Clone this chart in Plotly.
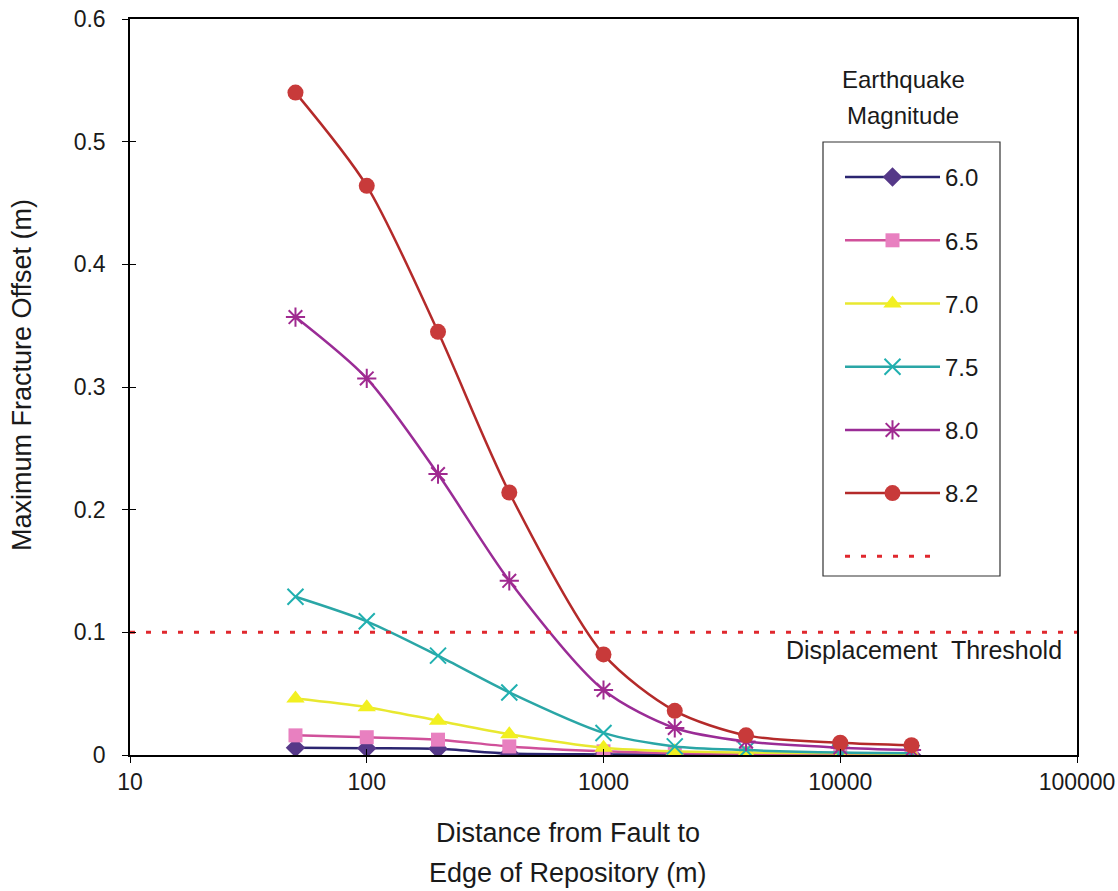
import plotly.graph_objects as go

distance = [50, 100, 200, 400, 1000, 2000, 4000, 10000, 20000]
magnitudes = ["6.0", "6.5", "7.0", "7.5", "8.0", "8.2"]
offset_60 = [0.006, 0.0055, 0.005, 0.0012, 0.0005, 0.0003, 0.0002, 0.0001, 0.0001]
offset_65 = [0.016, 0.0145, 0.0125, 0.007, 0.003, 0.0015, 0.001, 0.0005, 0.0004]
offset_70 = [0.046, 0.039, 0.028, 0.017, 0.006, 0.003, 0.002, 0.0015, 0.001]
offset_75 = [0.129, 0.109, 0.081, 0.051, 0.018, 0.007, 0.004, 0.002, 0.0015]
offset_80 = [0.357, 0.307, 0.229, 0.142, 0.053, 0.022, 0.011, 0.006, 0.004]
offset_82 = [0.540, 0.464, 0.345, 0.214, 0.082, 0.036, 0.016, 0.010, 0.008]
threshold_x = [10, 100000]
threshold_y = [0.1, 0.1]
x_tick_vals = [10, 100, 1000, 10000, 100000]
x_tick_text = ["10", "100", "1000", "10000", "100000"]

series = [offset_60, offset_65, offset_70, offset_75, offset_80, offset_82]
line_colors = ["#2b2570", "#d0509a", "#e8e830", "#2aa6a6", "#9a2c96", "#b42a2a"]
marker_colors = ["#553888", "#e880c0", "#f2f020", "#20b0b0", "#a02a90", "#c83a3a"]
symbols = ["diamond", "square", "triangle-up", "x-thin-open", "asterisk-open", "circle"]
sizes = [15, 14, 16, 16, 16, 16]

FONT = "Liberation Sans, Arial, sans-serif"

fig = go.Figure()

for i, (mag, vals) in enumerate(zip(magnitudes, series)):
    open_sym = symbols[i].endswith("open")
    marker = dict(symbol=symbols[i], size=sizes[i], color=marker_colors[i])
    if open_sym:
        marker["line"] = dict(color=marker_colors[i], width=2)
    else:
        marker["line"] = dict(width=0)
    fig.add_trace(go.Scatter(
        x=distance, y=vals, mode="lines+markers", name=mag,
        line=dict(color=line_colors[i], width=2.5, shape="spline", smoothing=0.8),
        marker=marker, legendgroup=mag, legendrank=i + 1,
    ))

# threshold drawn on an overlay pair of axes (same ranges) that carries the inner ticks
fig.add_trace(go.Scatter(
    x=threshold_x, y=threshold_y, mode="lines", name=" ",
    line=dict(color="#e0282e", width=3, dash="5px,11px"),
    legendgroup="thr", legendrank=1000, xaxis="x2", yaxis="y2",
))

fig.update_layout(
    width=1118, height=891,
    margin=dict(l=130, r=41, t=19, b=136),
    paper_bgcolor="white", plot_bgcolor="white",
    font=dict(family=FONT, size=23, color="#1a1a1a"),
    showlegend=True,
    legend=dict(
        x=(840 - 130) / 947, y=(755 - 155) / 736, xanchor="left", yanchor="top",
        bgcolor="rgba(0,0,0,0)", borderwidth=0,
        traceorder="grouped", tracegroupgap=29,
        font=dict(family=FONT, size=24),
        itemwidth=95,
    ),
    xaxis=dict(
        type="log", range=[1, 5], tickvals=x_tick_vals, ticktext=x_tick_text,
        showline=True, linecolor="black", linewidth=1.5, mirror=True,
        ticks="outside", ticklen=6, tickcolor="black", showgrid=False, zeroline=False,
        tickfont=dict(size=23), automargin=False,
    ),
    yaxis=dict(
        range=[0, 0.6], dtick=0.1, tickformat="~g",
        showline=True, linecolor="black", linewidth=1.5, mirror=True,
        ticks="outside", ticklen=6, tickcolor="black", showgrid=False, zeroline=False,
        tickfont=dict(size=23), ticklabelstandoff=12, automargin=False,
    ),
    xaxis2=dict(
        type="log", range=[1, 5], tickvals=x_tick_vals, overlaying="x",
        ticks="inside", ticklen=6, tickcolor="black", showticklabels=False,
        showline=False, showgrid=False, zeroline=False, automargin=False,
    ),
    yaxis2=dict(
        range=[0, 0.6], dtick=0.1, overlaying="y",
        ticks="inside", ticklen=6, tickcolor="black", showticklabels=False,
        showline=False, showgrid=False, zeroline=False, automargin=False,
    ),
    shapes=[dict(
        type="rect", xref="paper", yref="paper",
        x0=(823 - 130) / 947, x1=(1000 - 130) / 947,
        y0=(755 - 576) / 736, y1=(755 - 142) / 736,
        line=dict(color="#333333", width=1.2), fillcolor="rgba(0,0,0,0)",
    )],
    annotations=[
        dict(text="Earthquake", xref="paper", yref="paper",
             x=(903 - 130) / 947, y=(755 - 80) / 736, xanchor="center", yanchor="middle",
             showarrow=False, font=dict(size=24)),
        dict(text="Magnitude", xref="paper", yref="paper",
             x=(903 - 130) / 947, y=(755 - 115) / 736, xanchor="center", yanchor="middle",
             showarrow=False, font=dict(size=24)),
        dict(text="Displacement  Threshold", xref="paper", yref="paper",
             x=(1064 - 130) / 947, y=(755 - 650) / 736, xanchor="right", yanchor="middle",
             showarrow=False, font=dict(size=25)),
        dict(text="Maximum Fracture Offset (m)", xref="paper", yref="paper",
             x=(22 - 130) / 947, y=(755 - 375) / 736, xanchor="center", yanchor="middle",
             textangle=-90, showarrow=False, font=dict(size=27)),
        dict(text="Distance from Fault to", xref="paper", yref="paper",
             x=(568 - 130) / 947, y=(755 - 833) / 736, xanchor="center", yanchor="middle",
             showarrow=False, font=dict(size=27)),
        dict(text="Edge of Repository (m)", xref="paper", yref="paper",
             x=(568 - 130) / 947, y=(755 - 873) / 736, xanchor="center", yanchor="middle",
             showarrow=False, font=dict(size=27)),
    ],
)

fig.write_html("out.html")
